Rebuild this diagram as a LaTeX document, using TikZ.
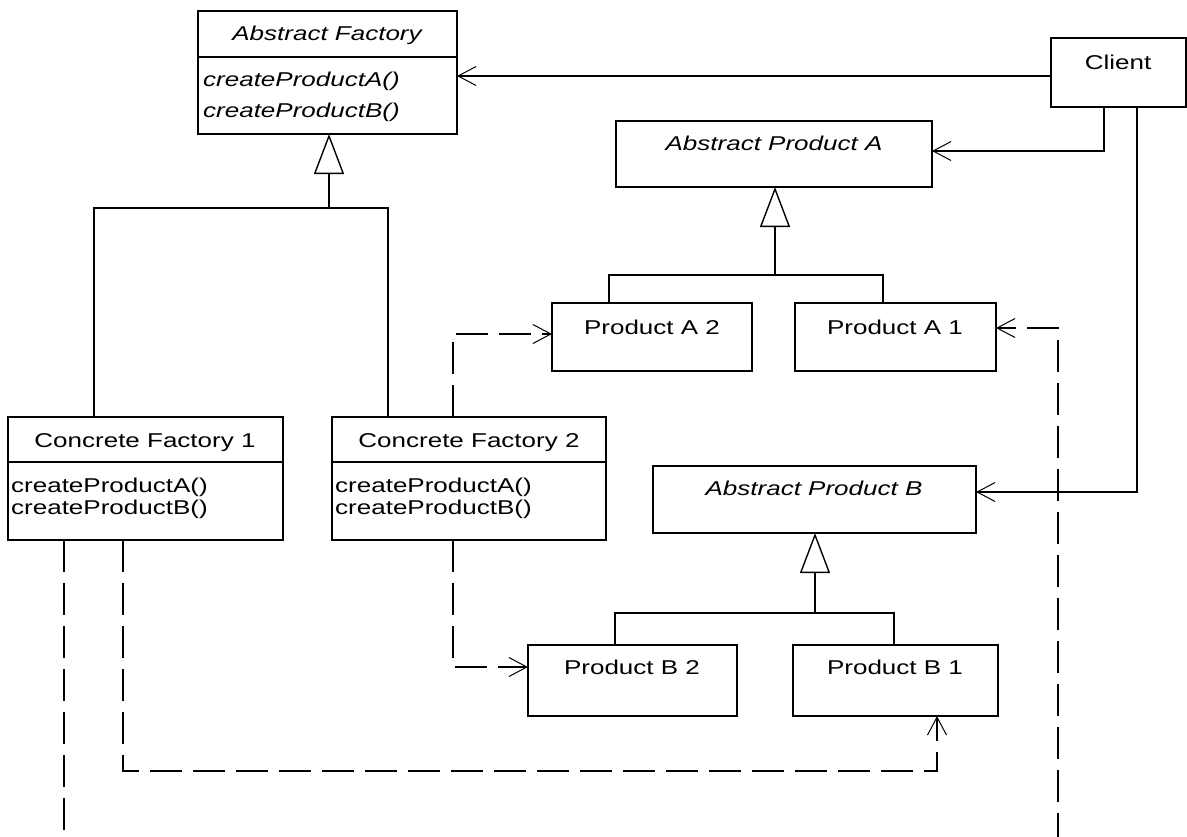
\documentclass[tikz,border=0pt]{standalone}
\usepackage{fontspec}
\setmainfont[FakeStretch=1.3]{Liberation Sans}
\usetikzlibrary{arrows.meta}
\tikzset{
  box/.style={draw, line width=1.4pt, rectangle, anchor=north west, inner sep=0pt, outer sep=0pt},
  lbl/.style={inner sep=0pt, text height=14pt, text depth=0pt, font=\fontsize{20}{22}\selectfont},
  ilbl/.style={lbl, font=\fontsize{20}{22}\selectfont\itshape},
  wire/.style={line width=1.4pt},
  barb/.tip={Straight Barb[length=18pt, width=19pt, line width=1pt]},
  assoc/.style={wire, -barb},
  dep/.style={wire, dash pattern=on 32pt off 11pt, -barb},
  inh/.style={wire, -{Triangle[open, length=40pt, width=30pt, fill=white, line width=1.4pt]}},
}
\begin{document}
\begin{tikzpicture}[x=1pt, y=-1pt]
\useasboundingbox (0,0) rectangle (1187,836);

% ---------- classes ----------
\node[box, minimum width=259pt, minimum height=123pt] (af) at (198,11) {};
\draw[wire] ([yshift=-46pt]af.north west) -- ([yshift=-46pt]af.north east);
\node[ilbl] (af-name) at (327,33) {Abstract Factory};
\node[ilbl, anchor=west] (af-m1) at (203,79) {createProductA()};
\node[ilbl, anchor=west] (af-m2) at (203,110) {createProductB()};

\node[box, minimum width=135pt, minimum height=69pt] (cl) at (1051,38) {};
\node[lbl] (cl-name) at (1118,62) {Client};

\node[box, minimum width=316pt, minimum height=66pt] (apa) at (616,121) {};
\node[ilbl] (apa-name) at (774,143) {Abstract Product A};

\node[box, minimum width=200pt, minimum height=68pt] (pa2) at (552,303) {};
\node[lbl] (pa2-name) at (652,327) {Product A 2};
\node[box, minimum width=201pt, minimum height=68pt] (pa1) at (795,303) {};
\node[lbl] (pa1-name) at (895,327) {Product A 1};

\node[box, minimum width=275pt, minimum height=123pt] (cf1) at (8,417) {};
\draw[wire] ([yshift=-45pt]cf1.north west) -- ([yshift=-45pt]cf1.north east);
\node[lbl] (cf1-name) at (145,440) {Concrete Factory 1};
\node[lbl, anchor=west] (cf1-m1) at (11,485) {createProductA()};
\node[lbl, anchor=west] (cf1-m2) at (11,507) {createProductB()};

\node[box, minimum width=274pt, minimum height=123pt] (cf2) at (332,417) {};
\draw[wire] ([yshift=-45pt]cf2.north west) -- ([yshift=-45pt]cf2.north east);
\node[lbl] (cf2-name) at (469,440) {Concrete Factory 2};
\node[lbl, anchor=west] (cf2-m1) at (335,485) {createProductA()};
\node[lbl, anchor=west] (cf2-m2) at (335,507) {createProductB()};

\node[box, minimum width=323pt, minimum height=67pt] (apb) at (653,466) {};
\node[ilbl] (apb-name) at (814,488) {Abstract Product B};

\node[box, minimum width=209pt, minimum height=71pt] (pb2) at (528,645) {};
\node[lbl] (pb2-name) at (632,667) {Product B 2};
\node[box, minimum width=205pt, minimum height=71pt] (pb1) at (793,645) {};
\node[lbl] (pb1-name) at (895,667) {Product B 1};

% ---------- junction points ----------
\coordinate (afj) at (329,208);
\coordinate (afl) at (94,208);
\coordinate (afr) at (388,208);
\coordinate (apaj) at (775,275);
\coordinate (apal) at (609,275);
\coordinate (apar) at (883,275);
\coordinate (apbj) at (815,613);
\coordinate (apbl) at (615,613);
\coordinate (apbr) at (894,613);
\coordinate (cla) at (1104,151);
\coordinate (clb) at (1137,492);
\coordinate (cf2a) at (453,334);
\coordinate (cf2b) at (453,667);
\coordinate (cf1b) at (123,771);
\coordinate (cf1bx) at (937,771);
\coordinate (cf1a) at (64,845);
\coordinate (pa1c) at (1058,328);
\coordinate (pa1d) at (1058,845);

% ---------- inheritance ----------
\draw[wire] (afl |- cf1.north) -- (afl) -- (afr) -- (afr |- cf2.north);
\draw[inh] (afj) -- (afj |- af.south);
\draw[wire] (apal |- pa2.north) -- (apal) -- (apar) -- (apar |- pa1.north);
\draw[inh] (apaj) -- (apaj |- apa.south);
\draw[wire] (apbl |- pb2.north) -- (apbl) -- (apbr) -- (apbr |- pb1.north);
\draw[inh] (apbj) -- (apbj |- apb.south);

% ---------- client associations ----------
\draw[assoc] (cl.west |- 0,76) -- (af.east |- 0,76);
\draw[assoc] (cla |- cl.south) -- (cla) -- (cla -| apa.east);
\draw[assoc] (clb |- cl.south) -- (clb) -- (clb -| apb.east);

% ---------- creation dependencies ----------
\draw[dep] (cf2a |- cf2.north) -- (cf2a) -- (cf2a -| pa2.west);
\draw[dep] (cf2b |- cf2.south) -- (cf2b) -- (cf2b -| pb2.west);
\draw[dep] (cf1b |- cf1.south) -- (cf1b) -- (cf1bx) -- (cf1bx |- pb1.south);
\draw[wire, dash pattern=on 32pt off 11pt] (cf1a |- cf1.south) -- (cf1a);
\draw[dep] (pa1d) -- (pa1c) -- (pa1c -| pa1.east);
\end{tikzpicture}
\end{document}
